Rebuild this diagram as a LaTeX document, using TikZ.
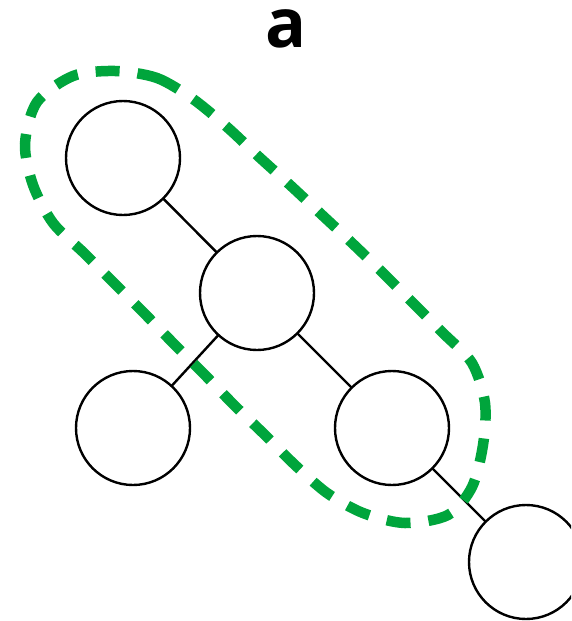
\documentclass[tikz,border=0pt]{standalone}
\usepackage{fontspec}
\newfontfamily\panelfont{Open Sans}
\definecolor{groupgreen}{RGB}{0,165,60}
\tikzset{
  treenode/.style={circle, draw=black, line width=2.4pt, fill=white,
                   minimum size=114pt, inner sep=0pt},
  edge/.style={draw=black, line width=2.4pt},
  grouping/.style={draw=groupgreen, line width=10.5pt, line cap=butt,
                   dash pattern=on 24pt off 18pt},
  paneltitle/.style={font=\panelfont\bfseries\fontsize{68}{68}\selectfont,
                     inner sep=0pt, text height=38pt, text depth=0pt}
}
\begin{document}
\begin{tikzpicture}[x=1pt,y=-1pt]
  \useasboundingbox (0,0) rectangle (571,621);
  \clip (0,0) rectangle (571,621);

  % panel label
  \node[paneltitle, anchor=base] (title) at (286,47) {a};

  % tree connectors
  \coordinate (pA) at (123,158);
  \coordinate (pB) at (257,293);
  \coordinate (pC) at (133,428);
  \coordinate (pD) at (392,428);
  \coordinate (pE) at (526,562);
  \draw[edge] (pA) -- (pB);
  \draw[edge] (pB) -- (pC);
  \draw[edge] (pB) -- (pD);
  \draw[edge] (pD) -- (pE);

  % tree nodes
  \node[treenode] (A) at (pA) {};
  \node[treenode] (B) at (pB) {};
  \node[treenode] (C) at (pC) {};
  \node[treenode] (D) at (pD) {};
  \node[treenode] (E) at (pE) {};

  % dashed outline around the selected path
  \draw[grouping] plot[smooth cycle, tension=0.5] coordinates {
    (115,71) (157,78) (193,99) (227,127) (258,156) (290,185) (321,214)
    (352,243) (383,273) (413,303) (443,333) (472,363) (485,403) (483,445)
    (472,487) (448,515) (405,523) (363,513) (327,493) (295,465) (265,435)
    (234,405) (204,374) (174,344) (144,313) (114,283) (84,253) (53,223)
    (33,185) (25,144) (37,102) (73,76)
  };
\end{tikzpicture}
\end{document}
